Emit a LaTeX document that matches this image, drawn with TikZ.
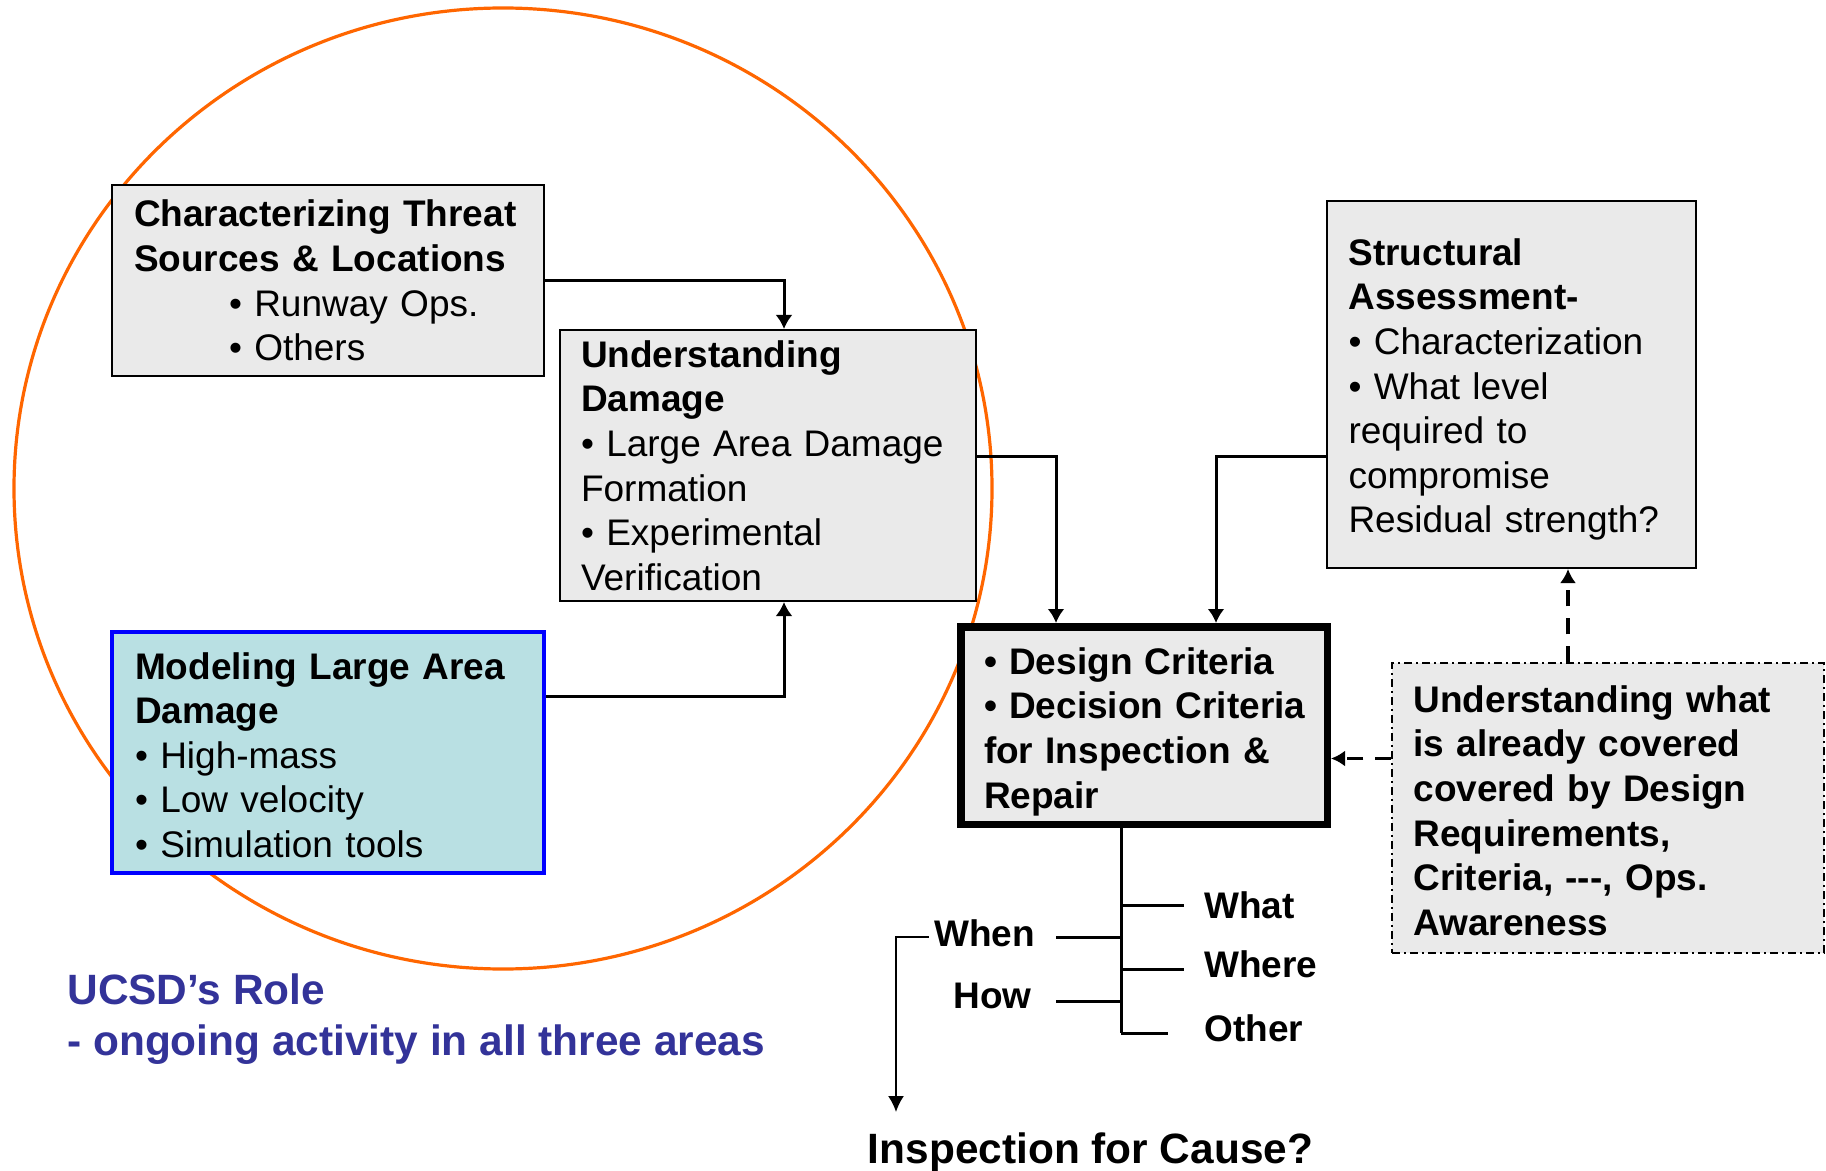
\documentclass[tikz,border=0pt]{standalone}
\usepackage{fontspec}
\setmainfont{Liberation Sans}
\usetikzlibrary{arrows.meta}
\definecolor{boxgray}{HTML}{EAEAEA}
\definecolor{modfill}{HTML}{B9E0E3}
\definecolor{ringorange}{HTML}{FF6600}
\definecolor{ucsdblue}{HTML}{333399}
\definecolor{boxblue}{HTML}{0000FF}
\newcommand\toppad[1]{\rule{0pt}{#1}}
\begin{document}
\hyphenpenalty=10000
\exhyphenpenalty=10000
\begin{tikzpicture}[x=0.5pt,y=-0.5pt,
  box/.style={draw=black, line width=1pt, fill=boxgray, rectangle, align=left,
    inner ysep=0pt, font=\fontsize{18.5pt}{22.3pt}\selectfont},
  boldbox/.style={box, font=\fontsize{18.5pt}{22.3pt}\selectfont\bfseries},
  conn/.style={line width=1.5pt, -{Latex[length=7pt,width=8.5pt]}},
  dconn/.style={line width=1.6pt, dash pattern=on 8pt off 6pt, -{Latex[length=7pt,width=8pt]}},
  thinarrow/.style={line width=0.9pt, -{Latex[length=8pt,width=8pt]}},
  branch/.style={line width=1.5pt},
  lbl/.style={inner sep=0pt, font=\fontsize{18.5pt}{22.3pt}\selectfont\bfseries},
  big/.style={inner sep=0pt, font=\fontsize{21.2pt}{25.5pt}\selectfont\bfseries}
]
\fill[white] (0,0) rectangle (1826,1171);
\useasboundingbox (0,0) rectangle (1826,1171);

% orange ring
\draw[ringorange, line width=1.6pt] (503,488.5) ellipse [x radius=244.5pt, y radius=240.25pt];

% boxes
\node[box, minimum width=216pt, minimum height=95.5pt, inner xsep=11pt, text width=194pt] (threat) at (328,280.5)
  {\textbf{Characterizing Threat}\\\textbf{Sources \& Locations}\\\hspace*{47.5pt}• Runway Ops.\\\hspace*{47.5pt}• Others};

\node[box, minimum width=208pt, minimum height=135.5pt, inner xsep=10.5pt, text width=187pt] (underst) at (768,465.5)
  {\textbf{Understanding}\\\textbf{Damage}\\• Large Area Damage\\Formation\\• Experimental\\Verification};

\node[box, draw=boxblue, line width=1.75pt, fill=modfill, minimum width=216pt, minimum height=120.5pt, inner xsep=11.5pt, text width=193pt] (model) at (328,752.5)
  {\toppad{16pt}\textbf{Modeling Large Area}\\\textbf{Damage}\\• High-mass\\• Low velocity\\• Simulation tools};

\node[box, minimum width=184.5pt, minimum height=183.5pt, inner xsep=10.75pt, text width=163pt] (struct) at (1511.5,384.5)
  {\toppad{18.5pt}\textbf{Structural}\\\textbf{Assessment-}\\• Characterization\\• What level\\required to\\compromise\\Residual strength?};

\node[boldbox, line width=3.75pt, minimum width=183.25pt, minimum height=98.75pt, inner xsep=11.6pt, text width=160pt] (design) at (1144,725.5)
  {\toppad{19.5pt}•~Design~Criteria\\•~Decision~Criteria\\for~Inspection~\&\\Repair};

\node[boldbox, line width=0.75pt, dash pattern=on 4pt off 2pt on 1pt off 2pt, minimum width=216pt, minimum height=145pt, inner xsep=10.75pt, text width=194.5pt] (aware) at (1608,808)
  {\toppad{16pt}Understanding what\\is already covered\\covered by Design\\Requirements,\\Criteria, -{}-{}-, Ops.\\Awareness};

% connectors
\draw[conn] (threat.east) -| ([xshift=8pt]underst.north);
\draw[conn] ([yshift=28pt]model.east) -| ([xshift=8pt]underst.south);
\draw[conn] ([yshift=4.5pt]underst.east) -| ([xshift=-44pt]design.north);
\draw[conn] ([yshift=-36pt]struct.west) -| ([xshift=36pt]design.north);

\coordinate (dtop) at ([xshift=-20pt]aware.north);
\draw[dconn] (dtop) -- (dtop |- struct.south);
\coordinate (dleft) at ([yshift=24.75pt]aware.west);
\draw[dconn] (dleft) -- (dleft -| design.east);

% tree labels
\node[lbl, anchor=base west] (what) at (1204,918) {What};
\node[lbl, anchor=base west] (where) at (1204,977) {Where};
\node[lbl, anchor=base west] (other) at (1204,1041) {Other};
\node[lbl, anchor=base west] (when) at (934,946) {When};
\node[lbl, anchor=base west] (how) at (953,1008) {How};

\coordinate (trunktop) at ([xshift=-11.5pt]design.south);
\coordinate (trunkbot) at (1121,1033);
\coordinate (jwhat) at (1121,905);
\coordinate (jwhere) at (1121,969);
\coordinate (jwhen) at (1121,937);
\coordinate (jhow) at (1121,1001);
\coordinate (ewhat) at (1184,905);
\coordinate (ewhere) at (1184,969);
\coordinate (eother) at (1168,1033);
\coordinate (ewhen) at (1056,937);
\coordinate (ehow) at (1056,1001);
\draw[branch] (trunktop) -- (trunkbot);
\draw[branch] (jwhat) -- (ewhat);
\draw[branch] (jwhere) -- (ewhere);
\draw[branch] (trunkbot) -- (eother);
\draw[branch] (jwhen) -- (ewhen);
\draw[branch] (jhow) -- (ehow);

% inspection arrow
\node[big, anchor=base] (insp) at (1090.5,1163) {Inspection for Cause?};
\coordinate (wstart) at ([xshift=-2.75pt,yshift=-2pt]when.west);
\coordinate (inspend) at (896,1112);
\draw[thinarrow] (wstart) -| (inspend);

% UCSD role
\node[big, text=ucsdblue, align=left, anchor=north west] (ucsd) at (67,973.5)
  {UCSD’s Role\\- ongoing activity in all three areas};
\end{tikzpicture}
\end{document}
